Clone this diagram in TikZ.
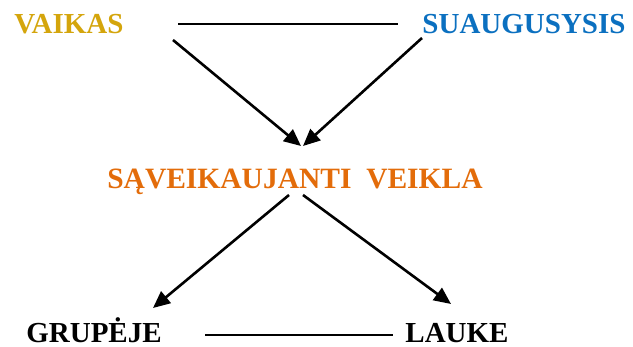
\documentclass[tikz,border=0pt]{standalone}
\usepackage{fontspec}
\setmainfont{Liberation Serif}
\usetikzlibrary{arrows.meta}
\definecolor{vaikasgold}{HTML}{D4A50C}
\definecolor{suaugblue}{HTML}{0B70C0}
\definecolor{veiklaorange}{HTML}{E36C0A}

\begin{document}
\begin{tikzpicture}[x=1pt,y=-1pt,
		lbl/.style={anchor=base,inner sep=0pt,font=\fontsize{29}{30}\selectfont\bfseries},
		link/.style={line width=1.4pt},
		arr/.style={line width=2.6pt,-{Triangle[length=17pt,width=15pt]}}]
		\useasboundingbox (0,0) rectangle (633,347);
		% labels
		\node[lbl,text=vaikasgold] (vaikas) at (69,34) {VAIKAS};
		\node[lbl,text=suaugblue] (suaug) at (524,34) {SUAUGUSYSIS};
		\node[lbl,text=veiklaorange,font=\fontsize{29.5}{30}\selectfont\bfseries] (veikla) at (295,189) {SĄVEIKAUJANTI\ \ VEIKLA};
		\node[lbl] (grupeje) at (94,343) {GRUPĖJE};
		\node[lbl] (lauke) at (457,343) {LAUKE};
		% free ends of the lines and arrows
		\coordinate (top l) at (178,24);
		\coordinate (top r) at (398,24);
		\coordinate (bot l) at (205,335);
		\coordinate (bot r) at (393,335);
		\coordinate (vaikas out) at (173,40);
		\coordinate (suaug out) at (422,38);
		\coordinate (veikla in l) at (301,146);
		\coordinate (veikla in r) at (303,146);
		\coordinate (veikla out l) at (289,195);
		\coordinate (veikla out r) at (303,195);
		\coordinate (grupeje in) at (153,308);
		\coordinate (lauke in) at (451,304);
		\draw[link] (top l) -- (top r);
		\draw[link] (bot l) -- (bot r);
		\draw[arr] (vaikas out) -- (veikla in l);
		\draw[arr] (suaug out) -- (veikla in r);
		\draw[arr] (veikla out l) -- (grupeje in);
		\draw[arr] (veikla out r) -- (lauke in);
	\end{tikzpicture}
\end{document}
